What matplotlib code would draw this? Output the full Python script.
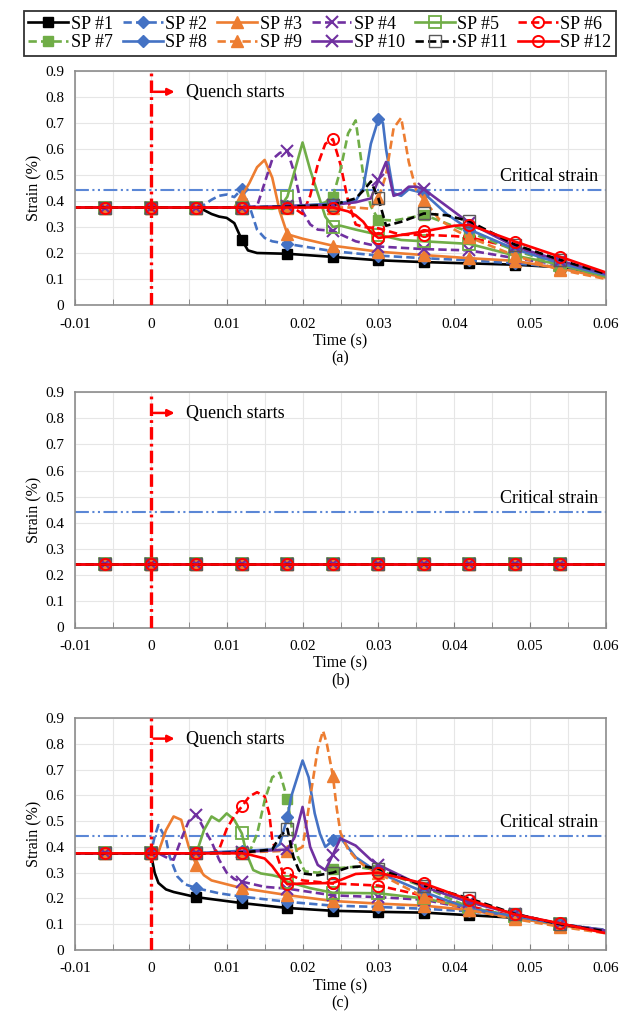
import numpy as np
import matplotlib
matplotlib.use("Agg")
import matplotlib.pyplot as plt
from matplotlib.ticker import MultipleLocator

plt.rcParams['font.family'] = ['Liberation Serif', 'DejaVu Serif']
plt.rcParams['lines.scale_dashes'] = False

# ---------------- data (time in ms, strain in %) ----------------
series_names = ["SP #1", "SP #2", "SP #3", "SP #4", "SP #5", "SP #6",
                "SP #7", "SP #8", "SP #9", "SP #10", "SP #11", "SP #12"]
critical_strain = 0.443
quench_time = 0.0
marker_times = [-6, 0, 6, 12, 18, 24, 30, 36, 42, 48, 54]

# Panel (a)
a_t1 = [-12, -6, 0, 6, 7, 8, 9, 10, 11, 12, 12.8, 14, 18, 24, 30, 36, 42, 48, 54, 60]
a_s1 = [.375, .375, .375, .375, .365, .35, .34, .335, .315, .25, .21, .2, .197, .185, .172, .165, .16, .155, .145, .115]
a_t2 = [-12, -6, 0, 6, 7, 8, 9, 10, 11, 12, 13, 14, 15, 16, 18, 24, 30, 36, 42, 48, 54, 60]
a_s2 = [.375, .375, .375, .375, .385, .405, .42, .425, .415, .447, .38, .29, .258, .245, .235, .207, .19, .18, .172, .16, .145, .11]
a_t3 = [-12, -6, 0, 6, 11, 12, 13, 14, 15, 16, 17, 18, 20, 24, 30, 36, 42, 48, 54, 60]
a_s3 = [.375, .375, .375, .375, .375, .42, .47, .53, .558, .49, .36, .272, .255, .228, .205, .192, .18, .17, .14, .105]
a_t4 = [-12, -6, 0, 6, 12, 14, 15, 16, 17, 18, 19, 20, 21, 22, 24, 27, 30, 36, 42, 48, 54, 60]
a_s4 = [.375, .375, .375, .375, .375, .38, .47, .56, .585, .594, .5, .36, .31, .29, .285, .245, .225, .215, .21, .18, .155, .11]
a_t5 = [-12, -6, 0, 6, 12, 16, 17, 18, 19, 20, 21, 22, 23, 24, 25, 27, 30, 33, 36, 42, 48, 54, 60]
a_s5 = [.375, .375, .375, .375, .375, .37, .375, .417, .52, .625, .52, .43, .34, .3, .305, .29, .27, .25, .245, .235, .19, .155, .11]
a_t6 = [-12, -6, 0, 6, 12, 18, 19, 20, 21, 22, 23, 24, 25, 26, 27, 28, 30, 33, 36, 40, 42, 48, 54, 60]
a_s6 = [.375, .375, .375, .375, .375, .375, .37, .35, .42, .54, .62, .638, .54, .4, .31, .3, .295, .27, .27, .265, .26, .22, .165, .115]
a_t7 = [-12, -6, 0, 6, 12, 18, 22, 23, 24, 25, 26, 27, 28, 29, 30, 32, 34, 36, 42, 48, 54, 60]
a_s7 = [.375, .375, .375, .375, .375, .38, .385, .395, .417, .52, .66, .71, .5, .38, .328, .325, .335, .347, .28, .21, .155, .108]
a_t8 = [-12, -6, 0, 6, 12, 18, 24, 27, 28, 29, 30, 30.6, 31, 32, 33, 34, 36, 39, 42, 48, 54, 60]
a_s8 = [.375, .375, .375, .375, .375, .38, .39, .4, .45, .62, .715, .7, .6, .43, .42, .445, .43, .35, .29, .215, .16, .115]
a_t9 = [-12, -6, 0, 6, 12, 18, 24, 27, 29, 30, 31, 32, 33, 34, 35, 36, 38, 40, 42, 48, 54, 60]
a_s9 = [.375, .375, .375, .375, .375, .375, .375, .375, .37, .41, .5, .68, .72, .55, .44, .405, .33, .29, .26, .19, .135, .1]
a_t10 = [-12, -6, 0, 6, 12, 18, 24, 27, 29, 30, 31, 32, 33, 34, 35, 36, 42, 48, 54, 60]
a_s10 = [.375, .375, .375, .375, .375, .38, .385, .395, .41, .48, .55, .42, .43, .455, .455, .445, .315, .225, .17, .12]
a_t11 = [-12, -6, 0, 6, 12, 18, 24, 27, 28, 29, 30, 31, 33, 36, 39, 42, 48, 54, 60]
a_s11 = [.375, .375, .375, .375, .375, .378, .385, .41, .44, .475, .41, .305, .32, .352, .345, .322, .232, .173, .12]
a_t12 = [-12, -6, 0, 6, 12, 18, 24, 26, 27, 28, 29, 30, 32, 36, 40, 42, 48, 54, 60]
a_s12 = [.375, .375, .375, .375, .375, .375, .375, .36, .345, .32, .28, .258, .265, .283, .305, .308, .244, .185, .125]

# Panel (b): all sensing points constant
b_t = [-12, -6, 0, 6, 12, 18, 24, 30, 36, 42, 48, 54, 60]
b_s = [.243, .243, .243, .243, .243, .243, .243, .243, .243, .243, .243, .243, .243]

# Panel (c)
c_t1 = [-12, -6, 0, 0.5, 1, 2, 3, 6, 12, 18, 24, 30, 36, 42, 48, 54, 60]
c_s1 = [.375, .375, .375, .3, .26, .235, .225, .205, .182, .163, .152, .148, .145, .135, .125, .1, .075]
c_t2 = [-12, -6, 0, 0.5, 1, 2, 2.5, 3.5, 4.5, 6, 9, 12, 18, 24, 30, 36, 42, 48, 54, 60]
c_s2 = [.375, .375, .375, .44, .485, .43, .36, .285, .255, .24, .22, .207, .187, .172, .167, .16, .15, .13, .1, .078]
c_t3 = [-12, -6, 0, 1, 2, 3, 4, 5, 6, 7, 8, 10, 12, 18, 24, 30, 36, 42, 48, 54, 60]
c_s3 = [.375, .375, .375, .38, .465, .518, .505, .4, .33, .29, .27, .255, .24, .213, .19, .18, .172, .155, .125, .095, .07]
c_t4 = [-12, -6, 0, 1, 2, 3, 4, 5, 6, 7, 8, 9, 10, 11, 12, 15, 18, 24, 30, 36, 42, 48, 54, 60]
c_s4 = [.375, .375, .375, .375, .36, .35, .43, .5, .525, .47, .42, .35, .3, .275, .265, .245, .238, .212, .205, .195, .16, .13, .1, .075]
c_t5 = [-12, -6, 0, 6, 7, 8, 9, 10, 11, 12, 12.6, 13.5, 14.5, 16, 17, 18, 21, 24, 30, 36, 42, 48, 54, 60]
c_s5 = [.375, .375, .375, .375, .465, .518, .5, .53, .505, .452, .375, .31, .297, .29, .283, .265, .24, .222, .22, .2, .165, .13, .1, .075]
c_t6 = [-12, -6, 0, 6, 8, 9, 10, 11, 12, 13, 14, 15, 15.6, 16, 16.7, 17.4, 18, 20, 24, 30, 36, 42, 48, 54, 60]
c_s6 = [.375, .375, .375, .375, .375, .39, .47, .52, .557, .596, .612, .596, .53, .43, .36, .3, .297, .27, .258, .25, .21, .17, .13, .1, .072]
c_t7 = [-12, -6, 0, 6, 12, 13, 14, 15, 16, 17, 18, 18.7, 19.4, 20.3, 22, 24, 27, 30, 36, 42, 48, 54, 60]
c_s7 = [.375, .375, .375, .375, .375, .38, .45, .58, .67, .688, .585, .45, .36, .305, .3, .316, .323, .31, .245, .165, .13, .1, .072]
c_t8 = [-12, -6, 0, 6, 12, 16, 17, 18, 18.5, 20, 20.8, 21.6, 22.3, 23, 24, 25, 27, 30, 36, 42, 48, 54, 60]
c_s8 = [.375, .375, .375, .375, .385, .39, .41, .515, .595, .735, .67, .53, .45, .4, .425, .435, .36, .3, .225, .16, .13, .1, .075]
c_t9 = [-12, -6, 0, 6, 12, 18, 19, 20, 20.5, 21, 22, 22.7, 23.2, 24, 24.5, 25, 26, 27, 28, 30, 36, 42, 48, 54, 60]
c_s9 = [.375, .375, .375, .375, .378, .385, .385, .4, .49, .59, .78, .85, .8, .675, .55, .455, .39, .355, .33, .297, .205, .155, .12, .09, .065]
c_t10 = [-12, -6, 0, 6, 12, 18, 19, 20, 21, 22, 23, 24, 25, 27, 29, 30, 36, 42, 48, 54, 60]
c_s10 = [.375, .375, .375, .375, .38, .39, .44, .555, .4, .33, .31, .37, .433, .405, .35, .33, .245, .185, .14, .1, .075]
c_t11 = [-12, -6, 0, 6, 12, 16, 17, 18, 18.8, 19.5, 20, 22, 24, 26, 28, 30, 36, 42, 48, 54, 60]
c_s11 = [.375, .375, .375, .375, .378, .39, .44, .47, .36, .31, .297, .29, .3, .32, .325, .315, .25, .2, .14, .1, .072]
c_t12 = [-12, -6, 0, 6, 12, 13, 15, 16, 17, 18, 20, 24, 27, 30, 36, 42, 48, 54, 60]
c_s12 = [.375, .375, .375, .375, .375, .37, .355, .325, .285, .255, .258, .26, .295, .3, .258, .194, .138, .103, .065]

panel_a = [(a_t1, a_s1), (a_t2, a_s2), (a_t3, a_s3), (a_t4, a_s4), (a_t5, a_s5), (a_t6, a_s6),
           (a_t7, a_s7), (a_t8, a_s8), (a_t9, a_s9), (a_t10, a_s10), (a_t11, a_s11), (a_t12, a_s12)]
panel_b = [(b_t, b_s)] * 12
panel_c = [(c_t1, c_s1), (c_t2, c_s2), (c_t3, c_s3), (c_t4, c_s4), (c_t5, c_s5), (c_t6, c_s6),
           (c_t7, c_s7), (c_t8, c_s8), (c_t9, c_s9), (c_t10, c_s10), (c_t11, c_s11), (c_t12, c_s12)]

# ---------------- styles ----------------
BLUE, ORANGE, PURPLE, GREEN, RED, BLACK = '#4472C4', '#ED7D31', '#7030A0', '#70AD47', '#FF0000', '#000000'
DASH = (0, (6, 3))
styles = [
    dict(color=BLACK, ls='-', marker='s', ms=7, mfc=BLACK),
    dict(color=BLUE, ls=DASH, marker='D', ms=6, mfc=BLUE),
    dict(color=ORANGE, ls='-', marker='^', ms=8, mfc=ORANGE),
    dict(color=PURPLE, ls=DASH, marker='x', ms=8, mfc=PURPLE, mew=1.5),
    dict(color=GREEN, ls='-', marker='s', ms=8, mfc='none', mew=1.3),
    dict(color=RED, ls=DASH, marker='o', ms=8, mfc='none', mew=1.4),
    dict(color=GREEN, ls=DASH, marker='s', ms=7, mfc=GREEN),
    dict(color=BLUE, ls='-', marker='D', ms=6, mfc=BLUE),
    dict(color=ORANGE, ls=DASH, marker='^', ms=8, mfc=ORANGE),
    dict(color=PURPLE, ls='-', marker='x', ms=8, mfc=PURPLE, mew=1.5),
    dict(color=BLACK, ls=DASH, marker='s', ms=8, mfc='none', mew=1.0, mec='#595959'),
    dict(color=RED, ls='-', marker='o', ms=8, mfc='none', mew=1.4),
]

W, H = 640, 1026
fig = plt.figure(figsize=(W / 100, H / 100), dpi=100)

panels = [
    (panel_a, 71, 305, '(a)'),
    (panel_b, 392, 627.5, '(b)'),
    (panel_c, 718, 950, '(c)'),
]
left_px, right_px = 75, 606
legend_handles = None

for data, top_px, bot_px, tag in panels:
    ax = fig.add_axes([left_px / W, 1 - bot_px / H, (right_px - left_px) / W, (bot_px - top_px) / H])
    handles = []
    for (t, s), st in zip(data, styles):
        t = np.asarray(t, dtype=float)
        idx = [i for i, v in enumerate(t) if any(abs(v - m) < 1e-9 for m in marker_times)]
        kw = dict(st)
        mec = kw.pop('mec', kw['color'])
        h, = ax.plot(t / 1000.0, s, color=kw['color'], linestyle=kw['ls'], lw=1.9,
                     marker=kw['marker'], ms=kw['ms'], mfc=kw['mfc'], mec=mec,
                     mew=kw.get('mew', 1.0), markevery=idx)
        handles.append(h)
    if legend_handles is None:
        legend_handles = handles

    # critical strain
    ax.axhline(critical_strain, color='#5B87D6', lw=1.5, dashes=(10, 2.5, 1.5, 2.5, 1.5, 2.5), zorder=1)
    ax.text(0.0589, critical_strain + 0.05, 'Critical strain', ha='right', va='center', fontsize=13)
    # quench start
    ax.plot([quench_time, quench_time], [0, 0.9], color=RED, lw=2.4, dashes=(9, 3, 2, 3), zorder=5)
    ax.annotate('', xy=(0.0035, 0.82), xytext=(quench_time, 0.82),
                arrowprops=dict(arrowstyle='-|>', color=RED, lw=1.8, mutation_scale=10))
    ax.text(0.0046, 0.818, 'Quench starts', ha='left', va='center', fontsize=13)

    ax.set_xlim(-0.01, 0.06)
    ax.set_ylim(0, 0.9)
    ax.xaxis.set_minor_locator(MultipleLocator(0.005))
    xt = np.arange(-0.01, 0.0601, 0.01)
    ax.set_xticks(xt)
    ax.set_xticklabels(['-0.01', '0', '0.01', '0.02', '0.03', '0.04', '0.05', '0.06'])
    yt = np.arange(0, 0.901, 0.1)
    ax.set_yticks(yt)
    ax.set_yticklabels(['0'] + ['%.1f' % v for v in yt[1:]])
    ax.tick_params(axis='x', which='both', direction='in', length=4, color='#7f7f7f', labelsize=11, pad=9)
    ax.tick_params(axis='y', which='both', length=0, labelsize=11, pad=8)
    ax.grid(True, which='both', axis='x', color='#e6e6e6', lw=0.8)
    ax.grid(True, which='major', axis='y', color='#e6e6e6', lw=0.8)
    ax.set_axisbelow(True)
    for sp in ax.spines.values():
        sp.set_color('#8c8c8c')
        sp.set_linewidth(1.2)
    ax.set_xlabel('Time (s)', fontsize=11.5, labelpad=2)
    ax.set_ylabel('Strain (%)', fontsize=11.5, labelpad=2)
    ax.text(0.5, -53 / (bot_px - top_px), tag, transform=ax.transAxes, ha='center', va='center', fontsize=11.5)

# legend: row 1 SP1..6, row 2 SP7..12 (column-major ordering)
order = []
for c in range(6):
    order += [c, c + 6]
leg = fig.legend([legend_handles[i] for i in order], [series_names[i] for i in order],
                 loc='upper center', bbox_to_anchor=(0.5, 0.998), ncol=6, fontsize=13,
                 frameon=True, fancybox=False, edgecolor='black', handlelength=2.2,
                 handletextpad=0.15, columnspacing=0.55, borderpad=0.25, labelspacing=0.1)
leg.get_frame().set_linewidth(1.3)

fig.savefig('out.png', dpi=100)
